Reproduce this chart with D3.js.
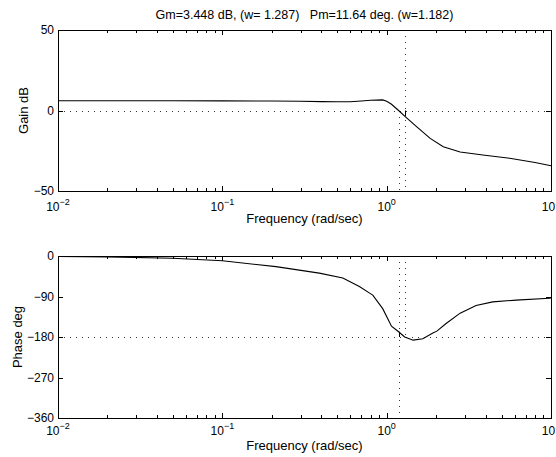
<!DOCTYPE html>
<html>
<head>
<meta charset="utf-8">
<script src="https://cdn.jsdelivr.net/npm/d3@7"></script>
<style>
  html, body { margin: 0; padding: 0; background: #fff; }
  svg { display: block; font-family: "Liberation Sans", Arial, Helvetica, sans-serif; }
  text { fill: #000; }
</style>
</head>
<body>
<svg id="chart" width="556" height="457"></svg>
<script>
// Open-loop frequency response (rad/sec) and stability margins
const freqGain = [0.01, 0.02, 0.05, 0.1, 0.2, 0.3, 0.4, 0.5, 0.6, 0.7, 0.8, 0.946, 1.0, 1.07, 1.182, 1.287, 1.52, 1.84, 2.21, 2.8, 3.85, 5.6, 8.0, 10];
const gainDb   = [6.1, 6.1, 6.05, 6.0, 5.9, 5.7, 5.5, 5.4, 5.4, 5.9, 6.4, 6.6, 5.8, 3.9, 0.0, -3.448, -10, -17.3, -22.5, -25.8, -27.6, -29.7, -32.3, -34.3];

const freqPhase = [0.01, 0.02, 0.05, 0.1, 0.212, 0.389, 0.541, 0.682, 0.792, 0.823, 0.946, 1.07, 1.182, 1.287, 1.45, 1.66, 1.91, 2.02, 2.30, 2.8, 3.5, 4.42, 6.13, 9.77, 10];
const phaseDeg  = [-1, -2, -5, -10.4, -23.7, -38, -49, -68, -83, -87, -117, -156, -168.36, -180, -187, -184, -171, -167, -150, -127, -110, -102, -98, -94, -93.5];

const gm = 3.448, wcg = 1.287, pm = 11.64, wcp = 1.182;

const xDecades   = [0.01, 0.1, 1, 10];
const xExponents = ["\u22122", "\u22121", "0", "1"];
const gainTicks  = [-50, 0, 50];
const phaseTicks = [-360, -270, -180, -90, 0];

const svg = d3.select("#chart");
const fmtNum = d3.format("d");

const x = d3.scaleLog().domain([0.01, 10]).range([58, 551]);
const xMinor = [];
for (let d = 0.01; d < 10; d *= 10) for (let k = 2; k <= 9; k++) xMinor.push(+(d * k).toPrecision(3));

function panel(cfg) {
  const y = d3.scaleLinear().domain(cfg.domain).range(cfg.range);
  const g = svg.append("g");
  const top = cfg.range[1], bot = cfg.range[0];

  // tick marks on all four sides, pointing inward
  const ax = (axisFn, scale, vals, size, tx, ty, labels) => {
    const a = axisFn(scale).tickValues(vals).tickSize(-size).tickPadding(4);
    if (!labels) a.tickFormat(() => "");
    else a.tickFormat(fmtNum);
    const s = g.append("g").attr("transform", `translate(${tx},${ty})`).call(a);
    s.select(".domain").remove();
    s.selectAll("line").attr("stroke", "#000").attr("shape-rendering", "crispEdges");
    s.selectAll("text").attr("font-size", 12).attr("fill", "#000")
      .attr("font-family", "Liberation Sans, Arial, sans-serif");
    return s;
  };
  ax(d3.axisBottom, x, xDecades, 5, 0, bot, false);
  ax(d3.axisBottom, x, xMinor, 3, 0, bot, false);
  ax(d3.axisTop, x, xDecades, 5, 0, top, false);
  ax(d3.axisTop, x, xMinor, 3, 0, top, false);
  ax(d3.axisLeft, y, cfg.ticks, 5, 58, 0, true);
  ax(d3.axisRight, y, cfg.ticks, 5, 551, 0, false);

  // decade labels with superscript exponent
  const lbl = g.append("g").selectAll("text").data(xDecades).join("text")
    .attr("x", d => x(d)).attr("y", cfg.tickBase)
    .attr("text-anchor", "middle").attr("font-size", 12);
  lbl.append("tspan").text("10");
  lbl.append("tspan").attr("font-size", 9).attr("dy", -6).text((d, i) => xExponents[i]);

  g.append("text").attr("x", (58 + 551) / 2).attr("y", cfg.titleBase)
    .attr("text-anchor", "middle").attr("font-size", 13).text("Frequency (rad/sec)");

  g.append("text")
    .attr("transform", `translate(${cfg.ylabX},${(top + bot) / 2}) rotate(-90)`)
    .attr("text-anchor", "middle").attr("dy", "0.35em").attr("font-size", 13)
    .text(cfg.ylabel);

  // reference lines
  const dot = sel => sel.attr("stroke", "#333").attr("stroke-width", 1)
    .attr("stroke-dasharray", "1,5").attr("shape-rendering", "crispEdges");
  g.append("line").attr("x1", 58).attr("x2", 551)
    .attr("y1", Math.round(y(cfg.refY)) + 0.5).attr("y2", Math.round(y(cfg.refY)) + 0.5).call(dot);
  cfg.verticals.forEach(v => {
    const xv = Math.round(x(v.w)) + 0.5;
    g.append("line").attr("x1", xv).attr("x2", xv)
      .attr("y1", y(v.from)).attr("y2", y(v.to)).call(dot);
  });

  // response curve
  const data = cfg.freq.map((f, i) => [f, cfg.values[i]]);
  g.append("path").datum(data)
    .attr("fill", "none").attr("stroke", "#000").attr("stroke-width", 1.1)
    .attr("d", d3.line().x(d => x(d[0])).y(d => y(d[1])));

  // margin marker
  const mx = Math.round(x(cfg.marker.w)) + 0.5;
  g.append("line").attr("x1", mx).attr("x2", mx)
    .attr("y1", y(cfg.marker.from)).attr("y2", y(cfg.marker.to))
    .attr("stroke", "#000").attr("stroke-width", 1);

  // frame
  g.append("rect").attr("x", 58.5).attr("y", top + 0.5)
    .attr("width", 551 - 58).attr("height", bot - top)
    .attr("fill", "none").attr("stroke", "#000").attr("stroke-width", 1);
}

panel({
  domain: [-50, 50], range: [191, 30], ticks: gainTicks,
  freq: freqGain, values: gainDb, ylabel: "Gain dB", ylabX: 23,
  tickBase: 211, titleBase: 223, refY: 0,
  verticals: [{ w: wcg, from: 50, to: -50 }, { w: wcp, from: 0, to: -50 }],
  marker: { w: wcg, from: 0, to: -gm }
});

panel({
  domain: [-360, 0], range: [418, 256], ticks: phaseTicks,
  freq: freqPhase, values: phaseDeg, ylabel: "Phase deg", ylabX: 17,
  tickBase: 435, titleBase: 450, refY: -180,
  verticals: [{ w: wcp, from: 0, to: -360 }, { w: wcg, from: 0, to: -180 }],
  marker: { w: wcp, from: -180, to: -180 + pm }
});

svg.append("text").attr("x", (58 + 551) / 2).attr("y", 19)
  .attr("text-anchor", "middle").attr("font-size", 12.5)
  .attr("xml:space", "preserve").style("white-space", "pre")
  .text(`Gm=${gm} dB, (w= ${wcg})   Pm=${pm} deg. (w=${wcp})`);
</script>
</body>
</html>
